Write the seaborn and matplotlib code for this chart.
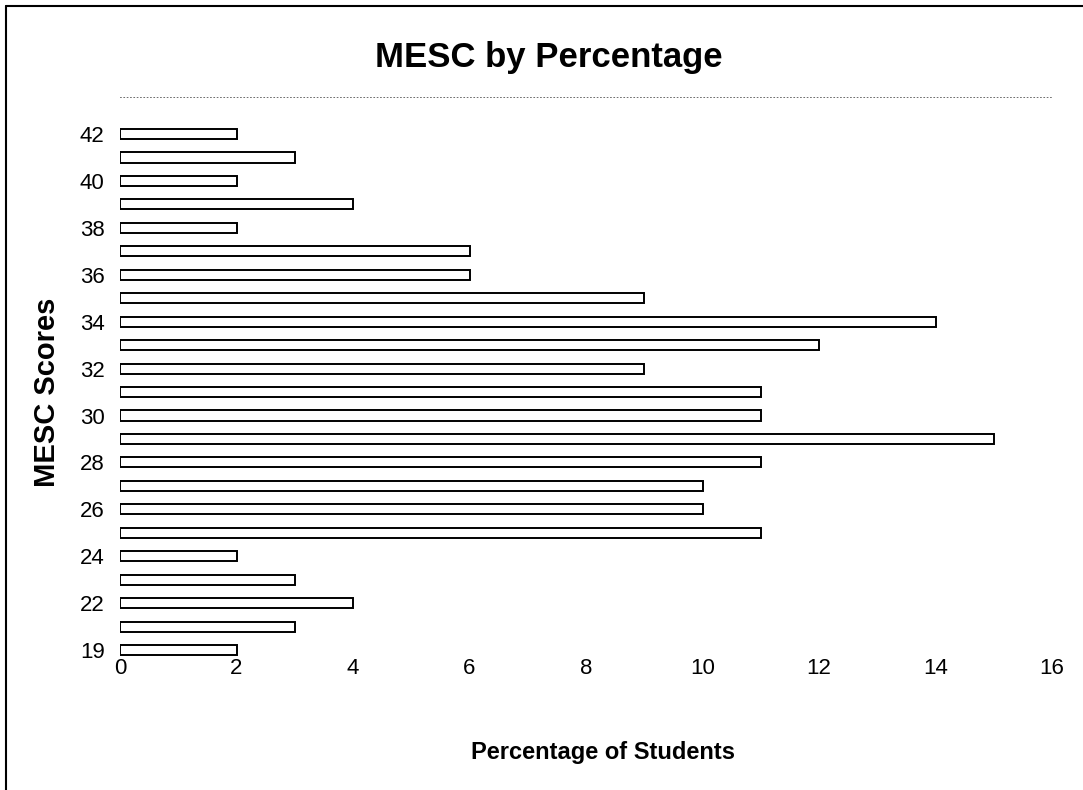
import matplotlib
matplotlib.use('Agg')
import matplotlib.pyplot as plt
import seaborn as sns
import pandas as pd
from matplotlib.lines import Line2D

# MESC scores, top to bottom as drawn
scores = ['42', '41', '40', '39', '38', '37', '36', '35', '34', '33', '32', '31',
          '30', '29', '28', '27', '26', '25', '24', '23', '22', '21', '19']
percent = [2, 3, 2, 4, 2, 6, 6, 9, 14, 12, 9, 11,
           11, 15, 11, 10, 10, 11, 2, 3, 4, 3, 2]
x_ticks = [0, 2, 4, 6, 8, 10, 12, 14, 16]

df = pd.DataFrame({'score': scores, 'pct': percent})

sns.set_style('white')
plt.rcParams['font.family'] = ['Liberation Sans', 'DejaVu Sans']
plt.rcParams['text.color'] = 'black'
plt.rcParams['xtick.color'] = 'black'
plt.rcParams['ytick.color'] = 'black'

fig = plt.figure(figsize=(10.83, 7.9), dpi=100)
ax = fig.add_axes([120/1083, 1-662/790, (1052-120)/1083, (662-97)/790])

sns.barplot(data=df, x='pct', y='score', order=scores, orient='h',
            color='white', edgecolor='black', linewidth=1.4, width=0.43, ax=ax)

ax.set_xlim(0, 16)
ax.set_ylim(22.51, -1.58)
ax.set_xticks(x_ticks)
ax.set_xticklabels([str(t) for t in x_ticks], fontsize=16)
ax.set_yticks(range(len(scores)))
ax.set_yticklabels([s if i % 2 == 0 else '' for i, s in enumerate(scores)], fontsize=16)
ax.tick_params(axis='x', length=0, pad=-3)
ax.tick_params(axis='y', length=0, pad=11)
ax.set_xlabel('')
ax.set_ylabel('')

for side in ['left', 'right', 'bottom']:
    ax.spines[side].set_visible(False)
ax.spines['top'].set_linestyle((0, (1, 3)))
ax.spines['top'].set_linewidth(0.6)
ax.spines['top'].set_color('#555555')

fig.text(549/1083, 1-58/790, 'MESC by Percentage', fontsize=25, fontweight='bold',
         ha='center', va='center')
fig.text(603/1083, 1-753/790, 'Percentage of Students', fontsize=17, fontweight='bold',
         ha='center', va='center')
fig.text(47/1083, 1-392/790, 'MESC Scores', fontsize=21, fontweight='bold',
         ha='center', va='center', rotation=90)

# scanned page border (left and top edges)
fig.add_artist(Line2D([6/1083, 6/1083], [0, 1-6/790], transform=fig.transFigure, color='black', lw=1.5))
fig.add_artist(Line2D([6/1083, 1], [1-6/790, 1-6/790], transform=fig.transFigure, color='black', lw=1.5))

fig.savefig('out.png', dpi=100)
